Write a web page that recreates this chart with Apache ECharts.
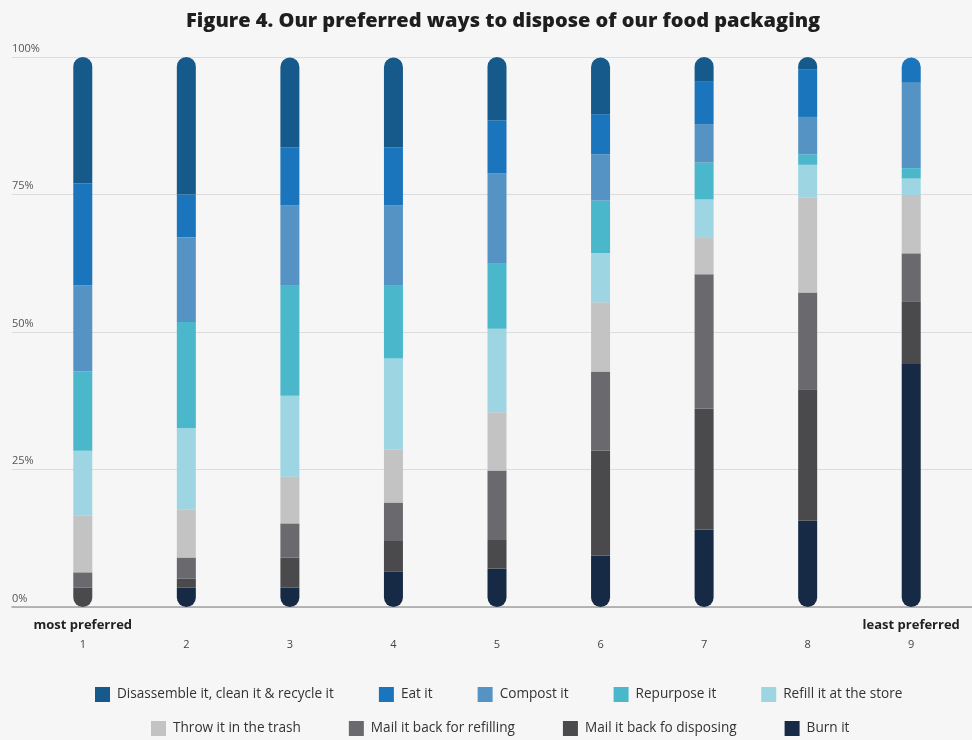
<!DOCTYPE html>
<html>
<head>
<meta charset="utf-8">
<script src="https://cdn.jsdelivr.net/npm/echarts@6/dist/echarts.min.js"></script>
<style>
html,body{margin:0;padding:0;background:#f6f6f6;}
#chart{width:972px;height:740px;}
</style>
</head>
<body>
<div id="chart"></div>
<script>
const categories = ['1','2','3','4','5','6','7','8','9'];
const yTicks = [0, 25, 50, 75, 100];

const disassemble = [23.0, 25.0, 16.3, 16.3, 11.5, 10.3, 4.5, 2.2, 0];
const eatIt       = [18.5, 7.8, 10.6, 10.6, 9.7, 7.3, 7.7, 8.7, 4.6];
const compost     = [15.7, 15.4, 14.6, 14.6, 16.4, 8.4, 7.0, 6.8, 15.5];
const repurpose   = [14.4, 19.3, 20.0, 13.2, 11.8, 9.6, 6.7, 1.9, 1.9];
const refillStore = [11.7, 14.8, 14.7, 16.5, 15.2, 8.9, 7.0, 5.9, 3.0];
const trash       = [10.4, 8.7, 8.5, 9.7, 10.6, 12.6, 6.6, 17.3, 10.6];
const mailRefill  = [2.8, 3.8, 6.2, 7.0, 12.6, 14.4, 24.4, 17.6, 8.7];
const mailDispose = [3.5, 1.7, 5.5, 5.6, 5.2, 19.1, 22.0, 23.9, 11.4];
const burn        = [0, 3.5, 3.5, 6.4, 7.0, 9.3, 14.1, 15.7, 44.2];

// stack order bottom -> top
const seriesDefs = [
  {name: 'Burn it', data: burn, color: '#172a45'},
  {name: 'Mail it back fo disposing', data: mailDispose, color: '#4a4a4c'},
  {name: 'Mail it back for refilling', data: mailRefill, color: '#69696e'},
  {name: 'Throw it in the trash', data: trash, color: '#c3c3c3'},
  {name: 'Refill it at the store', data: refillStore, color: '#9dd6e2'},
  {name: 'Repurpose it', data: repurpose, color: '#4bb7cb'},
  {name: 'Compost it', data: compost, color: '#5593c4'},
  {name: 'Eat it', data: eatIt, color: '#1a75bc'},
  {name: 'Disassemble it, clean it & recycle it', data: disassemble, color: '#165a8c'}
];
const legendRow1 = ['Disassemble it, clean it & recycle it','Eat it','Compost it','Repurpose it','Refill it at the store'];
const legendRow2 = ['Throw it in the trash','Mail it back for refilling','Mail it back fo disposing','Burn it'];

const R = 9.5;
const series = seriesDefs.map(function(def, si){
  const data = def.data.map(function(v, ci){
    let bottom = -1, top = -1;
    for (let k = 0; k < seriesDefs.length; k++) {
      if (seriesDefs[k].data[ci] > 0) { if (bottom < 0) bottom = k; top = k; }
    }
    let rad = [0,0,0,0];
    if (si === top) { rad[0] = R; rad[1] = R; }
    if (si === bottom) { rad[2] = R; rad[3] = R; }
    return {value: v, itemStyle: {borderRadius: rad}};
  });
  return {
    name: def.name, type: 'bar', stack: 'total', data: data,
    xAxisIndex: 1, yAxisIndex: 1, barWidth: 19,
    itemStyle: {color: def.color}
  };
});

const chart = echarts.init(document.getElementById('chart'));
const font = '"Open Sans", Lato, sans-serif';
chart.setOption({
  animation: false,
  backgroundColor: '#f6f6f6',
  textStyle: {fontFamily: font},
  title: {
    text: 'Figure 4. Our preferred ways to dispose of our food packaging',
    left: 181, top: 6,
    textStyle: {fontSize: 20, fontWeight: 800, color: '#1e1e1e', fontFamily: font}
  },
  legend: [
    {data: legendRow1, top: 682, left: 90, icon: 'rect', itemWidth: 15, itemHeight: 15, itemGap: 45,
     textStyle: {fontSize: 13.6, color: '#333', padding: [0,0,0,2], fontFamily: font}},
    {data: legendRow2, top: 716, left: 146, icon: 'rect', itemWidth: 15, itemHeight: 15, itemGap: 48,
     textStyle: {fontSize: 13.6, color: '#333', padding: [0,0,0,2], fontFamily: font}}
  ],
  grid: [
    {left: 12, right: 0, top: 57, bottom: 133},
    {left: 31, right: 9, top: 57, bottom: 133}
  ],
  xAxis: [
    {gridIndex: 0, type: 'category', data: [''], offset: 2,
     axisLine: {show: true, lineStyle: {color: '#a3a3a3', width: 1.5}},
     axisTick: {show: false}, axisLabel: {show: false}, splitLine: {show: false}},
    {gridIndex: 1, type: 'category', data: categories,
     axisLine: {show: false}, axisTick: {show: false},
     axisLabel: {
       margin: 9, interval: 0,
       formatter: function(v, i){
         let t = ' ';
         if (i === 0) t = 'most preferred';
         if (i === categories.length - 1) t = 'least preferred';
         return '{t|' + t + '}\n{n|' + v + '}';
       },
       rich: {
         t: {fontSize: 13, fontWeight: 'bold', color: '#222', lineHeight: 19, fontFamily: font},
         n: {fontSize: 11, color: '#444', lineHeight: 19, fontFamily: font}
       }
     }}
  ],
  yAxis: [
    {gridIndex: 0, type: 'value', min: 0, max: 100, interval: 25,
     axisLine: {show: false}, axisTick: {show: false},
     axisLabel: {inside: true, margin: 0, verticalAlign: 'bottom', padding: [0,0,3,0],
       fontSize: 11, color: '#555', formatter: '{value}%', fontFamily: font,
       customValues: yTicks},
     splitLine: {lineStyle: {color: '#dcdcdc', width: 1}}},
    {gridIndex: 1, type: 'value', min: 0, max: 100, interval: 25, show: false,
     splitLine: {show: false}}
  ],
  series: series
});
</script>
</body>
</html>
